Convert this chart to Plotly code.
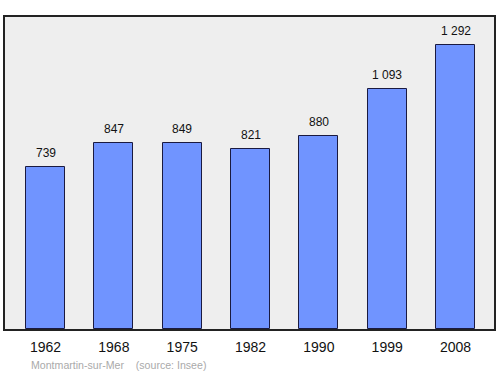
import plotly.graph_objects as go

years = ["1962", "1968", "1975", "1982", "1990", "1999", "2008"]
population = [739, 847, 849, 821, 880, 1093, 1292]

labels = [f"{v:,}".replace(",", " ") for v in population]
xpos = list(range(len(years)))

fig = go.Figure()
fig.add_trace(go.Bar(
    x=xpos, y=population, width=0.57,
    marker=dict(color="#7094ff", line=dict(color="#1a1a40", width=1)),
    hoverinfo="skip",
))
for x, v, t in zip(xpos, population, labels):
    fig.add_annotation(
        x=x, y=v, text=t, showarrow=False, yanchor="bottom", yshift=5,
        font=dict(size=12, color="#111111"),
    )

fig.update_layout(
    width=500, height=374,
    margin=dict(l=5, r=6, t=17, b=45),
    paper_bgcolor="white", plot_bgcolor="#eeeeee",
    showlegend=False, bargap=0,
    font=dict(family="Liberation Sans, Arial, sans-serif"),
)
fig.update_xaxes(
    range=[-0.593, 6.563], tickmode="array", tickvals=xpos, ticktext=years,
    showline=True, mirror=True, linecolor="#222222", linewidth=1.5,
    showgrid=False, zeroline=False, ticks="", ticklabelstandoff=4,
    tickfont=dict(size=14, color="#111111"),
)
fig.update_yaxes(
    range=[0, 1421], showticklabels=False, showgrid=False, zeroline=False,
    showline=True, mirror=True, linecolor="#222222", linewidth=1.5, ticks="",
)
fig.add_annotation(
    x=24/489, y=0, xref="paper", yref="paper", xanchor="left", yanchor="bottom",
    yshift=-44, text="Montmartin-sur-Mer&nbsp;&nbsp;&nbsp;&nbsp;(source: Insee)", showarrow=False,
    font=dict(size=10.6, color="#aaaaaa"),
)
fig.write_html("out.html")
